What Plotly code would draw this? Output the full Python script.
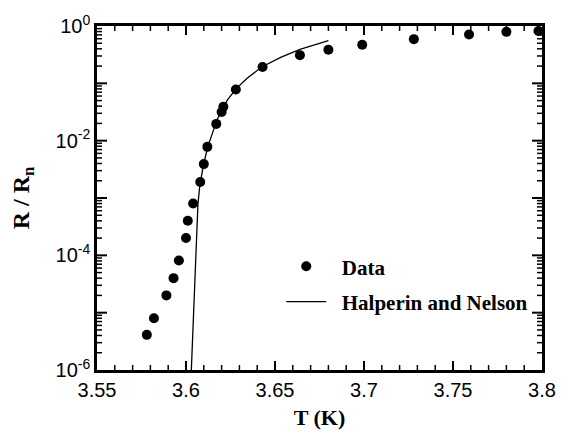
import plotly.graph_objects as go

# Data
T_data = [3.578, 3.582, 3.589, 3.593, 3.596, 3.600, 3.601, 3.604, 3.608, 3.610,
          3.612, 3.617, 3.620, 3.621, 3.628, 3.643, 3.664, 3.680, 3.699, 3.728,
          3.759, 3.780, 3.798]
R_data = [4.1e-6, 8.0e-6, 2.0e-5, 4.0e-5, 8.1e-5, 2.0e-4, 4.0e-4, 8.0e-4, 1.9e-3, 3.9e-3,
          7.8e-3, 1.96e-2, 3.16e-2, 3.9e-2, 7.8e-2, 0.193, 0.31, 0.386, 0.47, 0.59,
          0.71, 0.79, 0.82]

T_fit = [3.6030, 3.6036, 3.6045, 3.6055, 3.6067, 3.6078, 3.6100, 3.6122, 3.6150,
         3.6175, 3.6200, 3.6232, 3.6282, 3.6342, 3.6425, 3.6535, 3.6640, 3.6728, 3.6800]
R_fit = [1.0e-6, 3.2e-6, 1.55e-5, 1.1e-4, 7.8e-4, 1.7e-3, 4.0e-3, 7.8e-3, 1.45e-2,
         2.35e-2, 3.3e-2, 5.1e-2, 8.1e-2, 0.121, 0.193, 0.286, 0.391, 0.475, 0.556]

x_tickvals = [3.55, 3.6, 3.65, 3.7, 3.75, 3.8]
x_ticktext = ["3.55", "3.6", "3.65", "3.7", "3.75", "3.8"]
x_minor_vals = [3.56, 3.57, 3.58, 3.59, 3.61, 3.62, 3.63, 3.64, 3.66, 3.67, 3.68, 3.69,
                3.71, 3.72, 3.73, 3.74, 3.76, 3.77, 3.78, 3.79]
y_tickvals = [1e-6, 1e-5, 1e-4, 1e-3, 1e-2, 1e-1, 1e0]
y_ticktext = ["10<sup>-6</sup>", "", "10<sup>-4</sup>", "", "10<sup>-2</sup>", "", "10<sup>0</sup>"]
y_minor_vals = [m * 10.0 ** e for e in range(-6, 0) for m in range(2, 10)]

serif = "Liberation Serif, Times New Roman, serif"
sans = "Liberation Sans, Arial, sans-serif"

fig = go.Figure()
fig.add_trace(go.Scatter(
    x=T_data, y=R_data, mode="markers", name="\u00a0\u00a0<b>Data</b>",
    marker=dict(color="black", size=10), cliponaxis=False, legendgroup="a"))
fig.add_trace(go.Scatter(
    x=T_fit, y=R_fit, mode="lines", name="\u00a0\u00a0<b>Halperin and Nelson</b>",
    line=dict(color="black", width=1.3), legendgroup="b"))

# Inward tick marks on all four sides, placed through the axes' own scales
shapes = []


def x_ticks(vals, length, width):
    for v in vals:
        for anchor, sign in ((0, 1), (1, -1)):
            shapes.append(dict(type="line", xref="x", yref="paper", x0=v, x1=v,
                               ysizemode="pixel", yanchor=anchor, y0=0, y1=sign * length,
                               line=dict(color="black", width=width), layer="above"))


def y_ticks(vals, length, width):
    for v in vals:
        for anchor, sign in ((0, 1), (1, -1)):
            shapes.append(dict(type="line", xref="paper", yref="y", y0=v, y1=v,
                               xsizemode="pixel", xanchor=anchor, x0=0, x1=sign * length,
                               line=dict(color="black", width=width), layer="above"))


x_ticks(x_tickvals[1:-1], 9, 2)
x_ticks(x_minor_vals, 5, 1.5)
y_ticks(y_tickvals[1:-1], 10, 2)
y_ticks(y_minor_vals, 5, 1.5)

fig.update_layout(
    width=568, height=442,
    margin=dict(l=97, r=17, t=17, b=72),
    plot_bgcolor="white", paper_bgcolor="white",
    showlegend=True,
    shapes=shapes,
    legend=dict(x=0.414, y=0.36, xanchor="left", yanchor="top",
                font=dict(family=serif, size=21, color="black"),
                bgcolor="rgba(0,0,0,0)", traceorder="grouped", tracegroupgap=5,
                itemwidth=40),
    xaxis=dict(
        showline=True, linecolor="black", linewidth=2.5, mirror=True,
        ticks="", showgrid=False, zeroline=False,
        range=[3.55, 3.8], tickmode="array", tickvals=x_tickvals, ticktext=x_ticktext,
        tickfont=dict(family=sans, size=20, color="black"),
        title=dict(text="<b>T (K)</b>", font=dict(family=serif, size=22, color="black"),
                   standoff=10)),
    yaxis=dict(
        type="log", range=[-6, 0],
        showline=True, linecolor="black", linewidth=2.5, mirror=True,
        ticks="", showgrid=False, zeroline=False,
        tickmode="array", tickvals=y_tickvals, ticktext=y_ticktext,
        tickfont=dict(family=sans, size=20, color="black"),
        title=dict(text="<b>R / R<sub>n</sub></b>",
                   font=dict(family=serif, size=24, color="black"), standoff=20)),
)

fig.write_html("out.html")
